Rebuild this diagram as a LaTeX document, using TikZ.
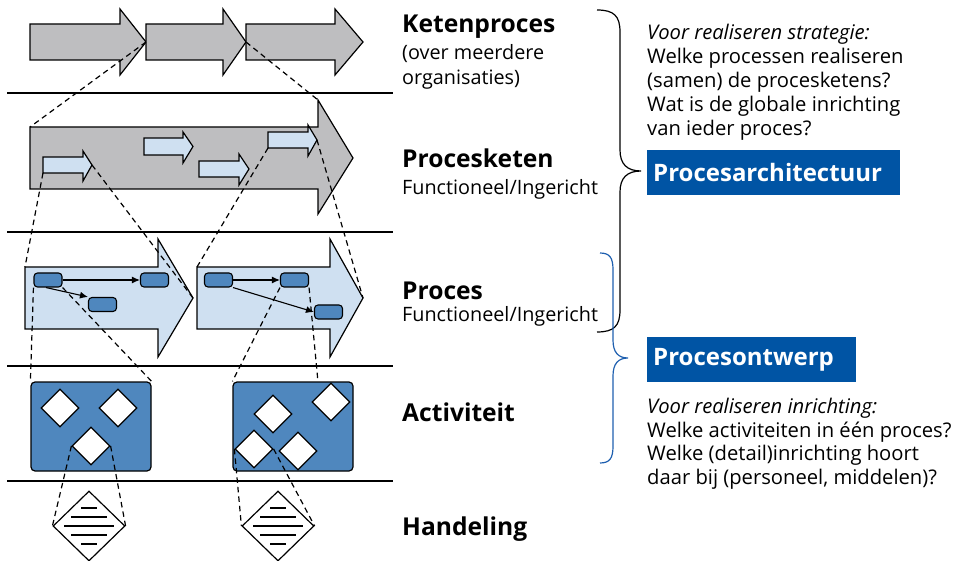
\documentclass[tikz,border=0pt]{standalone}
\usepackage{fontspec}
\setmainfont{Open Sans}
\usetikzlibrary{arrows.meta,shapes.geometric}
\definecolor{grayfill}{RGB}{190,190,192}
\definecolor{lightblue}{RGB}{207,224,241}
\definecolor{midblue}{RGB}{79,135,190}
\definecolor{darkblue}{RGB}{0,84,164}
\definecolor{bracec}{RGB}{30,95,175}
\newcommand{\blockarrow}[9]{%
  \draw[#1] (#3,#6) -- (#4,#6) -- (#4,#6-#8) -- (#5,{(#6+#7)/2}) -- (#4,#7+#9) -- (#4,#7) -- (#3,#7) -- cycle;
  \coordinate (#2-tl) at (#3,#6);
  \coordinate (#2-bl) at (#3,#7);
  \coordinate (#2-tip) at (#5,{(#6+#7)/2});
  \coordinate (#2-ht) at (#4,#6-#8);
  \coordinate (#2-hb) at (#4,#7+#9);
}
\tikzset{
  sepline/.style={line width=1.2pt},
  garrow/.style={draw=black, fill=grayfill, line width=1.2pt},
  larrow/.style={draw=black, fill=lightblue, line width=1.2pt},
  conn/.style={line width=1.2pt, dash pattern=on 5.5pt off 4pt},
  pbox/.style={draw=black, fill=midblue, rounded corners=3.5pt, minimum width=28pt, minimum height=14pt, inner sep=0pt, line width=1.1pt},
  abox/.style={draw=black, fill=midblue, rounded corners=4pt, minimum width=120pt, minimum height=89pt, inner sep=0pt, line width=1.2pt},
  wdia/.style={diamond, draw=black, fill=white, minimum width=38pt, minimum height=38pt, inner sep=0pt, line width=1.2pt},
  hdia/.style={diamond, draw=black, fill=white, minimum width=72pt, minimum height=70pt, inner sep=0pt, line width=1.2pt},
  flowarr/.style={-{Latex[length=8pt,width=7pt]}, line width=1.1pt},
  ttl/.style={anchor=base west, inner sep=0pt, font=\fontsize{24.6}{28}\selectfont\bfseries},
  subtxt/.style={anchor=base west, inner sep=0pt, font=\fontsize{19.8}{24}\selectfont},
  rtxt/.style={anchor=base west, inner sep=0pt, font=\fontsize{20.2}{24}\selectfont},
  bluehead/.style={anchor=west, fill=darkblue, text=white, font=\fontsize{24}{28}\selectfont\bfseries, minimum height=45pt, inner xsep=6pt, inner ysep=0pt, align=left},
}
\begin{document}
\begin{tikzpicture}[x=1pt,y=-1pt]
\useasboundingbox (0,0) rectangle (961,561);
% separator lines
\foreach \yy in {93,232,366,481} \draw[sepline] (7,\yy) -- (393,\yy);
% chain arrows
\blockarrow{garrow}{c1}{30}{120}{146}{24}{60}{15}{15}
\blockarrow{garrow}{c2}{146}{223}{246}{24}{60}{15}{15}
\blockarrow{garrow}{c3}{246}{335}{363}{24}{60}{15}{15}
% process chain
\blockarrow{garrow}{pk}{30}{318}{353}{127}{189}{27}{25}
\blockarrow{larrow}{a1}{43}{83}{92}{157}{173}{6}{8}
\blockarrow{larrow}{a2}{144}{183}{193}{138}{155}{6}{8}
\blockarrow{larrow}{a3}{199}{239}{249}{161}{177}{7}{8}
\blockarrow{larrow}{a4}{268}{308}{317}{132}{148}{7}{8}
% processes
\blockarrow{larrow}{p1}{25}{158}{193}{267}{329}{28}{28}
\blockarrow{larrow}{p2}{197}{330}{363}{267}{329}{28}{28}
\node[pbox] (b1) at (48,280) {};
\node[pbox] (b2) at (154.5,280) {};
\node[pbox] (b3) at (102.5,304.5) {};
\node[pbox] (b4) at (218.5,280) {};
\node[pbox] (b5) at (294.5,280) {};
\node[pbox] (b6) at (328.5,312) {};
\draw[flowarr] (b1.east) -- (b2.west);
\draw[flowarr] ([xshift=-2pt]b1.south) -- (b3.north west);
\draw[flowarr] (b4.east) -- (b5.west);
\draw[flowarr] (b4.south east) -- (b6.west);
% activities
\node[abox] (act1) at (91,426.5) {};
\node[abox] (act2) at (293,426.5) {};
\node[wdia] (d1) at (60,408) {};
\node[wdia] (d2) at (118,408) {};
\node[wdia] (d3) at (91,446) {};
\node[wdia] (d4) at (273,414) {};
\node[wdia] (d5) at (331,402) {};
\node[wdia] (d6) at (254,449) {};
\node[wdia] (d7) at (298,451) {};
% handelingen
\node[hdia] (h1) at (89,526) {};
\node[hdia] (h2) at (278,526) {};
\foreach \hh in {h1,h2}{
  \foreach \dy/\w in {-18/8,-9/18,0/25,9/18,18/8}
    \draw[line width=1.5pt] ([shift={(-\w,\dy)}]\hh.center) -- ([shift={(\w,\dy)}]\hh.center);
}
% dashed connectors
\coordinate (act2top) at (318,382);
\draw[conn] (c1-tip) -- (pk-tl);
\draw[conn] (c2-tip) -- (pk-ht);
\draw[conn] (a1-bl) -- (p1-tl);
\draw[conn] (a1-tip) -- (p1-tip);
\draw[conn] (a4-bl) -- (p2-tl);
\draw[conn] (a4-tip) -- (p2-tip);
\draw[conn] (b1.south west) -- (act1.north west);
\draw[conn] (b1.south east) -- (act1.north east);
\draw[conn] (b5.south west) -- (act2.north west);
\draw[conn] (b5.south east) -- (act2top);
\draw[conn] (d3.west) -- (h1.west);
\draw[conn] (d3.east) -- (h1.east);
\draw[conn] (d6.west) -- (h2.west);
\draw[conn] (d6.east) -- (h2.east);
% level labels
\node[ttl] (t1) at (402,33) {Ketenproces};
\node[subtxt] (t1a) at (402,60) {(over meerdere};
\node[subtxt] (t1b) at (402,85) {organisaties)};
\node[ttl] (t2) at (402,168) {Procesketen};
\node[subtxt] (t2a) at (402,195) {Functioneel/Ingericht};
\node[ttl] (t3) at (402,300) {Proces};
\node[subtxt] (t3a) at (402,321) {Functioneel/Ingericht};
\node[ttl] (t4) at (402,421) {Activiteit};
\node[ttl] (t5) at (402,535) {Handeling};
% braces
\draw[line width=1.2pt] (597,10) .. controls (614,10) and (620,16) .. (620,32) -- (620,150)
  .. controls (620,164) and (627,171) .. (641,171)
  .. controls (627,171) and (620,178) .. (620,192) -- (620,310)
  .. controls (620,326) and (614,332) .. (597,332);
\draw[line width=1.2pt, bracec] (600,253) .. controls (610,253) and (613,258) .. (613,270) -- (613,340)
  .. controls (613,352) and (618,358) .. (628,358)
  .. controls (618,358) and (613,364) .. (613,376) -- (613,446)
  .. controls (613,458) and (610,463) .. (600,463);
% right texts
\node[rtxt] (r1) at (647,40) {\itshape Voor realiseren strategie:};
\node[rtxt] (r2) at (647,64) {Welke processen realiseren};
\node[rtxt] (r3) at (647,88) {(samen) de procesketens?};
\node[rtxt] (r4) at (647,112) {Wat is de globale inrichting};
\node[rtxt] (r5) at (647,136) {van ieder proces?};
\node[bluehead, text width=241pt] (arch) at (647,172.5) {Procesarchitectuur};
\node[bluehead, text width=197pt] (ontw) at (647,359.5) {Procesontwerp};
\node[rtxt] (s1) at (647,413) {\itshape Voor realiseren inrichting:};
\node[rtxt] (s2) at (647,437) {Welke activiteiten in één proces?};
\node[rtxt] (s3) at (647,460) {Welke (detail)inrichting hoort};
\node[rtxt] (s4) at (647,484) {daar bij (personeel, middelen)?};
\end{tikzpicture}
\end{document}
